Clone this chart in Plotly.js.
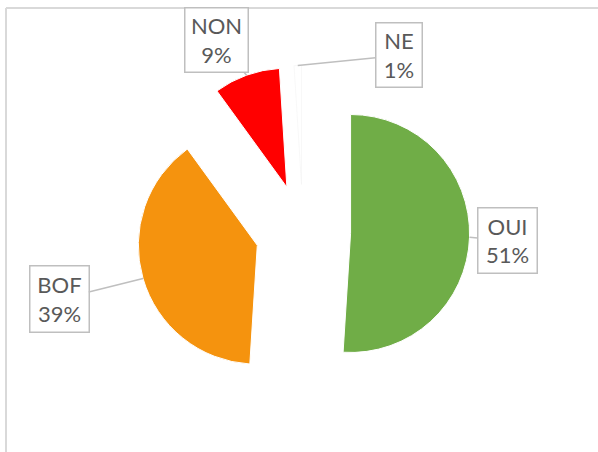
<!DOCTYPE html>
<html>
<head>
<meta charset="utf-8">
<script src="https://cdn.plot.ly/plotly-3.0.1.min.js"></script>
<style>
  html, body { margin: 0; padding: 0; background: #fff; }
  #chart { width: 598px; height: 452px; }
</style>
</head>
<body>
<div id="chart"></div>
<script>
// ---- data ----
const categories = ['OUI', 'BOF', 'NON', 'NE'];
const values = [51, 39, 9, 1];
const sliceColors = ['#70AD47', '#F5930E', '#FF0000', '#FFFFFF'];

// ---- layout / style constants (pixels) ----
const W = 598, H = 452;
const CX = 303, CY = 232;   // un-exploded pie centre
const R = 119;              // pie radius
const PULL = 0.4;           // explosion (fraction of radius)

// label box placement relative to arrow tip (pixels), and box sizes
const labelStyle = {
  OUI: { ax: 38, ay: 3,  w: 54, h: 60 },
  BOF: { ax: -84, ay: 21, w: 54, h: 61 },
  NON: { ax: -30, ay: -35, w: 58, h: 59 },
  NE:  { ax: 101, ay: -10, w: 41, h: 59 }
};

const half = R * (1 + PULL);   // plotly: r = min(box)/(2+2*pull)
const domainX = [(CX - half) / W, (CX + half) / W];
const domainY = [1 - (CY + half) / H, 1 - (CY - half) / H];

const total = values.reduce((a, b) => a + b, 0);
let cum = 0;
const annotations = categories.map((cat, i) => {
  const frac = values[i] / total;
  const mid = (cum + frac / 2) * 2 * Math.PI;
  cum += frac;
  const tx = CX + (1 + PULL) * R * Math.sin(mid);
  const ty = CY - (1 + PULL) * R * Math.cos(mid);
  const st = labelStyle[cat];
  return {
    xref: 'paper', yref: 'paper',
    x: tx / W, y: 1 - ty / H,
    ax: st.ax, ay: st.ay,
    text: cat + '<br>' + Math.round(frac * 100) + '%',
    showarrow: true, arrowhead: 0, arrowwidth: 1.5, arrowcolor: '#BFBFBF',
    standoff: 0, startstandoff: 0,
    bgcolor: '#FFFFFF', bordercolor: '#BFBFBF', borderwidth: 1.5, borderpad: 2,
    width: st.w, height: st.h, align: 'center', valign: 'middle',
    font: { family: 'Lato, "Liberation Sans", sans-serif', size: 22, color: '#595959' }
  };
});

const trace = {
  type: 'pie',
  labels: categories,
  values: values,
  sort: false,
  direction: 'clockwise',
  rotation: 0,
  pull: categories.map(() => PULL),
  textinfo: 'none',
  hoverinfo: 'label+percent',
  marker: {
    colors: sliceColors,
    line: { color: ['#FFFFFF', '#FFFFFF', '#FFFFFF', '#F4F4F4'], width: [1, 1, 1, 0.6] }
  },
  domain: { x: domainX, y: domainY }
};

const layout = {
  width: W, height: H,
  margin: { l: 0, r: 0, t: 0, b: 0, pad: 0 },
  paper_bgcolor: '#FFFFFF',
  showlegend: false,
  annotations: annotations,
  shapes: [
    { type: 'line', xref: 'paper', yref: 'paper', x0: 6 / W, x1: 1.02, y0: 1 - 8 / H, y1: 1 - 8 / H,
      line: { color: '#D9D9D9', width: 2 } },
    { type: 'line', xref: 'paper', yref: 'paper', x0: 6 / W, x1: 6 / W, y0: 1 - 8 / H, y1: -0.02,
      line: { color: '#D9D9D9', width: 2 } }
  ]
};

Plotly.newPlot('chart', [trace], layout, { displayModeBar: false, staticPlot: true });
</script>
</body>
</html>
